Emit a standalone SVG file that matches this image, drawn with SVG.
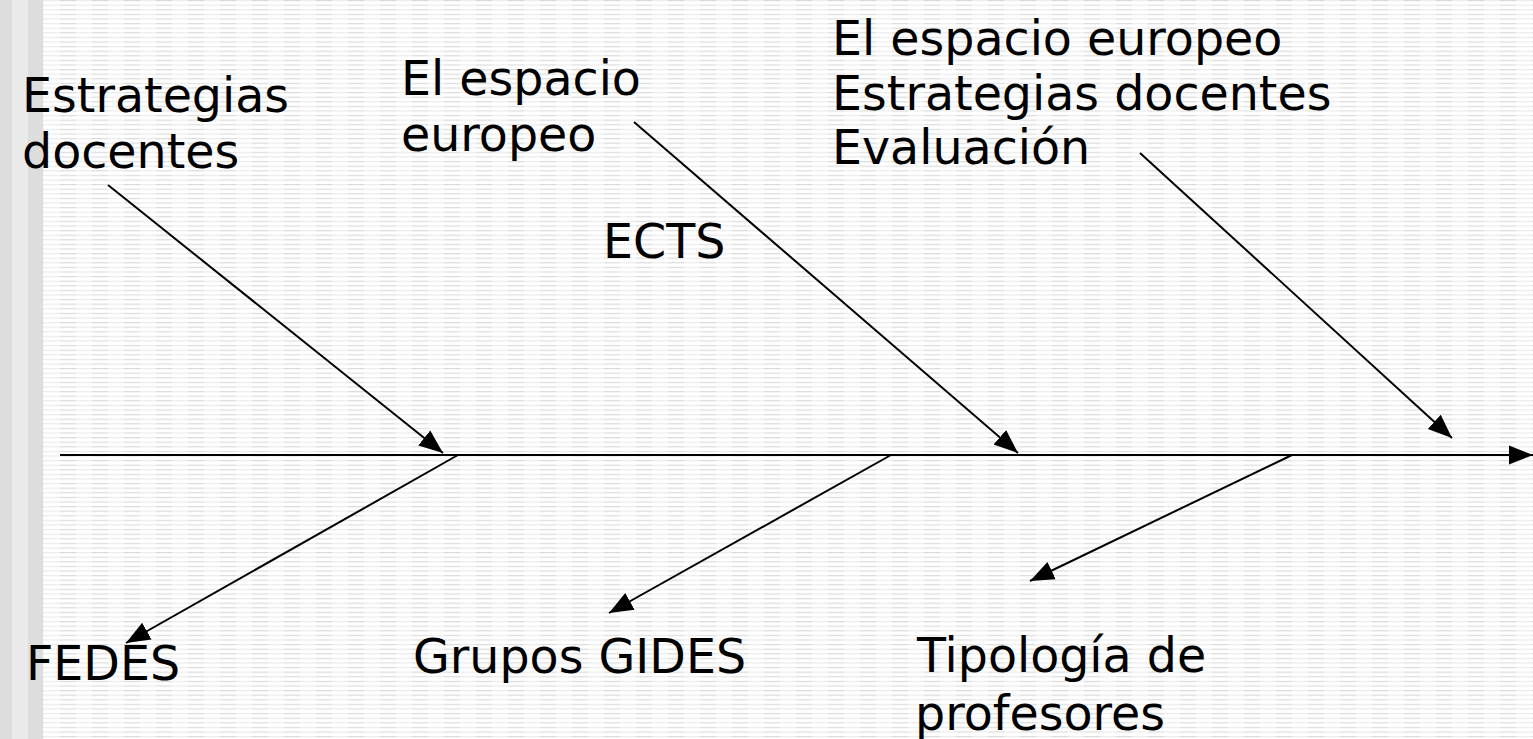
<svg xmlns="http://www.w3.org/2000/svg" width="1533" height="739" viewBox="0 0 1533 739">
<style>
text{font-family:"DejaVu Sans",Verdana,sans-serif;font-size:47.5px;fill:#000}
.c line{stroke:#000;stroke-width:2}
</style>
<defs>
<pattern id="stripe" x="44" y="0" width="32" height="4.6" patternUnits="userSpaceOnUse">
<rect width="32" height="4.6" fill="#fff"/>
<rect y="0" width="16" height="1.2" fill="#ececec"/>
<rect x="16" y="0" width="16" height="1.2" fill="#dcdcdc"/>
</pattern>
<marker id="ab" viewBox="0 0 10 10" refX="10" refY="5" markerWidth="24" markerHeight="24" markerUnits="userSpaceOnUse" orient="auto">
<path d="M0,1 L10,5 L0,9 z" fill="#000"/>
</marker>
</defs>
<rect width="1533" height="739" fill="url(#stripe)"/>
<rect x="0" y="0" width="12" height="739" fill="#dddddd"/>
<rect x="12" y="0" width="16" height="739" fill="#eaeaea"/>
<rect x="28" y="0" width="15" height="739" fill="#dddddd"/>
<g class="c" id="connectors">
<line x1="60" y1="455" x2="1533" y2="455" marker-end="url(#ab)"/>
<line x1="108" y1="185" x2="443" y2="453" marker-end="url(#ab)"/>
<line x1="634" y1="122" x2="1018" y2="453" marker-end="url(#ab)"/>
<line x1="1140" y1="153" x2="1452" y2="438" marker-end="url(#ab)"/>
<line x1="458" y1="455" x2="126" y2="643" marker-end="url(#ab)"/>
<line x1="891" y1="455" x2="609" y2="613" marker-end="url(#ab)"/>
<line x1="1292" y1="455" x2="1030" y2="581" marker-end="url(#ab)"/>
</g>
<g id="n1"><text x="22" y="112">Estrategias</text><text x="22" y="168">docentes</text></g>
<g id="n2"><text x="401" y="95">El espacio</text><text x="401" y="151">europeo</text></g>
<g id="n3"><text x="832" y="55">El espacio europeo</text><text x="832" y="110">Estrategias docentes</text><text x="832" y="164">Evaluación</text></g>
<g id="n4"><text x="603" y="258">ECTS</text></g>
<g id="n5"><text x="26" y="680">FEDES</text></g>
<g id="n6"><text x="413" y="673">Grupos GIDES</text></g>
<g id="n7"><text x="917" y="672">Tipología de</text><text x="915" y="730">profesores</text></g>
</svg>
